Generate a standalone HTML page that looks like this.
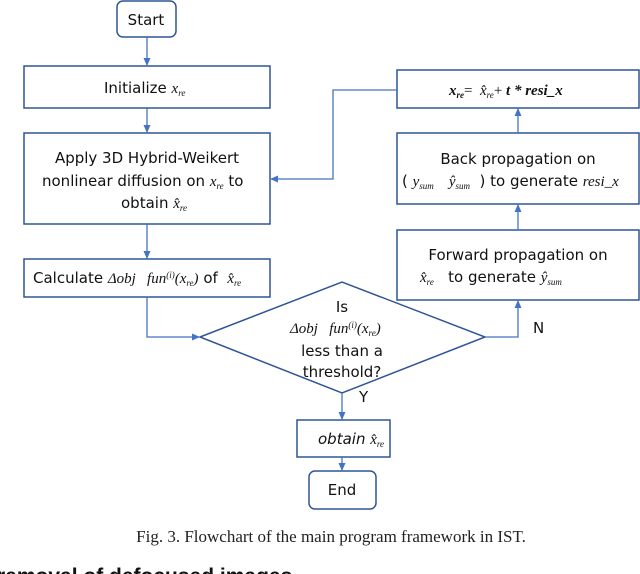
<!DOCTYPE html>
<html><head><meta charset="utf-8"><style>
body{margin:0;background:#fff;width:640px;height:574px;overflow:hidden}
svg{display:block}
text{white-space:pre}
.t{font-family:"DejaVu Sans","Liberation Sans",sans-serif;font-size:15px;fill:#111}
.m{font-family:"Liberation Serif",serif;font-style:italic;font-size:15px;fill:#111}
.s{font-size:9px}
</style></head><body>
<svg width="640" height="574" viewBox="0 0 640 574">
<defs><marker id="a" markerWidth="8" markerHeight="8" refX="7" refY="4" orient="auto" markerUnits="userSpaceOnUse"><path d="M0,0.5 L8,4 L0,7.5 z" fill="#4472c4"/></marker></defs>
<g fill="none" stroke="#2f5597" stroke-width="1.5">
<rect x="117" y="1" width="59" height="36" rx="6"/>
<rect x="24" y="66" width="246" height="42"/>
<rect x="24" y="133" width="246" height="91"/>
<rect x="24" y="259" width="246" height="38"/>
<polygon points="200,337 342,282 485,337 342,393"/>
<rect x="397" y="70" width="242" height="38"/>
<rect x="397" y="133" width="242" height="71"/>
<rect x="397" y="230" width="242" height="70"/>
<rect x="297" y="420" width="93" height="37"/>
<rect x="309" y="471" width="67" height="38" rx="6"/>
</g>
<g fill="none" stroke="#4472c4" stroke-width="1.3" marker-end="url(#a)">
<line x1="147" y1="37" x2="147" y2="65"/>
<line x1="147" y1="108" x2="147" y2="132"/>
<line x1="147" y1="224" x2="147" y2="258"/>
<polyline points="147,297 147,337 199,337"/>
<polyline points="485,337 518,337 518,301"/>
<line x1="518" y1="230" x2="518" y2="205"/>
<line x1="518" y1="133" x2="518" y2="109"/>
<polyline points="397,90 333,90 333,179 271,179"/>
<line x1="342" y1="393" x2="342" y2="419"/>
<line x1="342" y1="457" x2="342" y2="470"/>
</g>
<text class="t" x="146" y="25" text-anchor="middle">Start</text>
<text class="t" x="104" y="93">Initialize <tspan class="m">x</tspan><tspan class="m s" dy="3">re</tspan></text>
<text class="t" x="147" y="163" text-anchor="middle">Apply 3D Hybrid-Weikert</text>
<text class="t" x="42" y="186">nonlinear diffusion on <tspan class="m">x</tspan><tspan class="m s" dy="3">re</tspan><tspan dy="-3"> to</tspan></text>
<text class="t" x="121" y="208">obtain <tspan class="m">x̂</tspan><tspan class="m s" dy="3">re</tspan></text>
<text class="t" x="33" y="283">Calculate <tspan class="m" font-size="13">Δobj   fun</tspan><tspan class="m s" dy="-5">(i)</tspan><tspan class="m" dy="5">(x</tspan><tspan class="m s" dy="3">re</tspan><tspan class="m" dy="-3">)</tspan> of  <tspan class="m">x̂</tspan><tspan class="m s" dy="3">re</tspan></text>
<text class="t" x="342" y="312" text-anchor="middle">Is</text>
<text class="m" x="290" y="333" font-size="13">Δobj   fun<tspan class="s" dy="-5">(i)</tspan><tspan dy="5">(x</tspan><tspan class="s" dy="3">re</tspan><tspan dy="-3">)</tspan></text>
<text class="t" x="342" y="356" text-anchor="middle">less than a</text>
<text class="t" x="342" y="377" text-anchor="middle">threshold?</text>
<text class="t" x="359" y="402">Y</text>
<text class="t" x="533" y="333">N</text>
<text class="m" x="449" y="95" font-weight="bold">x<tspan class="s" dy="3">re</tspan><tspan dy="-3" font-style="normal" font-weight="normal">=  </tspan><tspan font-weight="normal">x̂</tspan><tspan class="s" font-weight="normal" dy="3">re</tspan><tspan dy="-3" font-style="normal" font-weight="normal">+ </tspan>t * resi_x</text>
<text class="t" x="518" y="164" text-anchor="middle">Back propagation on</text>
<text class="t" x="402" y="186">( <tspan class="m">y</tspan><tspan class="m s" dy="3">sum</tspan><tspan class="m" dy="-3">    ŷ</tspan><tspan class="m s" dy="3">sum</tspan><tspan dy="-3">  ) to generate </tspan><tspan class="m">resi_x</tspan></text>
<text class="t" x="518" y="260" text-anchor="middle">Forward propagation on</text>
<text class="t" x="420" y="282"><tspan class="m">x̂</tspan><tspan class="m s" dy="3">re</tspan><tspan dy="-3">   to generate </tspan><tspan class="m">ŷ</tspan><tspan class="m s" dy="3">sum</tspan></text>
<text class="t" x="318" y="444" font-style="italic">obtain <tspan class="m">x̂</tspan><tspan class="m s" dy="3">re</tspan></text>
<text class="t" x="342" y="495" text-anchor="middle">End</text>
<text x="331" y="542" text-anchor="middle" font-family="Liberation Serif,serif" font-size="17" fill="#222">Fig. 3. Flowchart of the main program framework in IST.</text>
<text x="-3" y="583" font-family="Liberation Sans,sans-serif" font-weight="bold" font-size="21" fill="#111">removal of defocused images</text>
</svg>
</body></html>
